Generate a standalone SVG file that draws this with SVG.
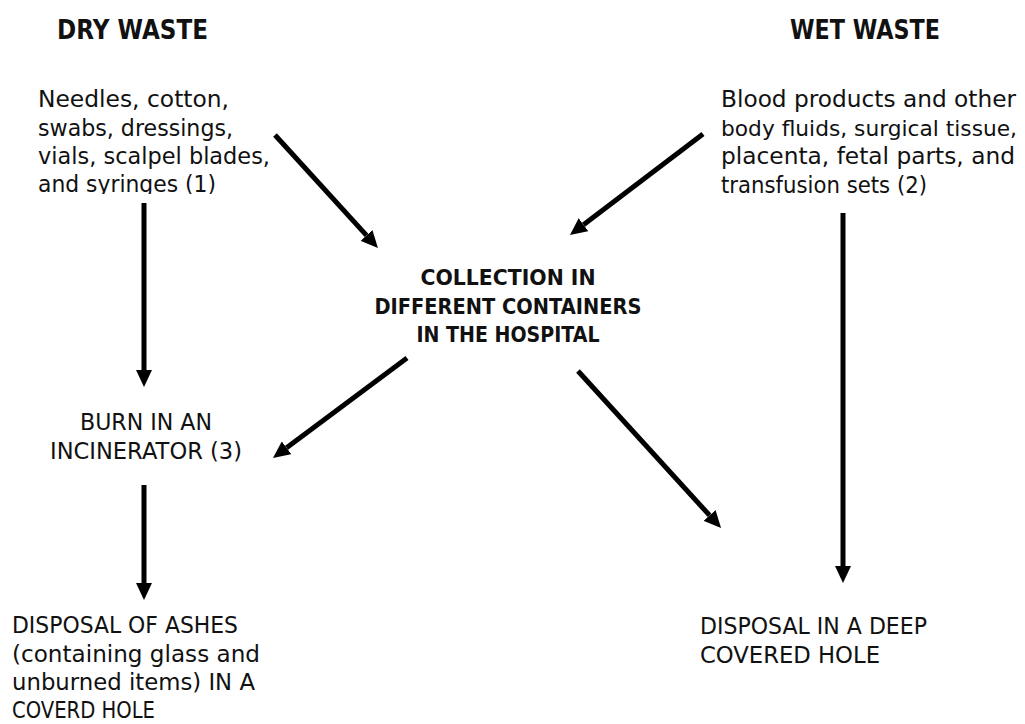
<svg xmlns="http://www.w3.org/2000/svg" width="1025" height="724" viewBox="0 0 1025 724">
<style>
text{font-family:"DejaVu Sans","Liberation Sans",sans-serif;fill:#111;}
.b{font-size:23px;}
.r{font-size:21.5px;}
.h{font-size:27px;font-weight:bold;}
.c{font-size:20.5px;font-weight:bold;text-anchor:middle;}
.m{text-anchor:middle;}
.arr{stroke:#000;stroke-width:5;fill:none;marker-end:url(#ah);}
</style>
<defs>
<marker id="ah" markerUnits="userSpaceOnUse" markerWidth="17" markerHeight="16" viewBox="0 0 17 16" refX="0" refY="8" orient="auto">
<path d="M0,0 L17,8 L0,16 z" fill="#000"/>
</marker>
<clipPath id="clipL"><rect x="0" y="0" width="400" height="194"/></clipPath>
</defs>
<rect width="1025" height="724" fill="#fff"/>
<g id="dry-title"><text class="h" x="57" y="39" textLength="151" lengthAdjust="spacingAndGlyphs">DRY WASTE</text></g>
<g id="wet-title"><text class="h" x="790" y="39" textLength="150" lengthAdjust="spacingAndGlyphs">WET WASTE</text></g>
<g id="dry-items" clip-path="url(#clipL)">
<text class="b" x="38" y="107" textLength="191" lengthAdjust="spacingAndGlyphs">Needles, cotton,</text>
<text class="b" x="38" y="135.5" textLength="195" lengthAdjust="spacingAndGlyphs">swabs, dressings,</text>
<text class="b" x="38" y="164" textLength="232" lengthAdjust="spacingAndGlyphs">vials, scalpel blades,</text>
<text class="b" x="38" y="192" textLength="178" lengthAdjust="spacingAndGlyphs">and syringes (1)</text>
</g>
<g id="wet-items">
<text class="b" x="721" y="107" textLength="295" lengthAdjust="spacingAndGlyphs">Blood products and other</text>
<text class="r" x="721" y="135.5" textLength="296" lengthAdjust="spacingAndGlyphs">body fluids, surgical tissue,</text>
<text class="b" x="721" y="164" textLength="294" lengthAdjust="spacingAndGlyphs">placenta, fetal parts, and</text>
<text class="b" x="721" y="192.5" textLength="206" lengthAdjust="spacingAndGlyphs">transfusion sets (2)</text>
</g>
<g id="collection">
<text class="c" x="508" y="285" textLength="175" lengthAdjust="spacingAndGlyphs">COLLECTION IN</text>
<text class="c" x="508" y="313.5" textLength="267" lengthAdjust="spacingAndGlyphs">DIFFERENT CONTAINERS</text>
<text class="c" x="508" y="342" textLength="183" lengthAdjust="spacingAndGlyphs">IN THE HOSPITAL</text>
</g>
<g id="burn">
<text class="b m" x="146" y="430" textLength="132" lengthAdjust="spacingAndGlyphs">BURN IN AN</text>
<text class="b m" x="146" y="459" textLength="192" lengthAdjust="spacingAndGlyphs">INCINERATOR (3)</text>
</g>
<g id="ashes">
<text class="b" x="12" y="633" textLength="226" lengthAdjust="spacingAndGlyphs">DISPOSAL OF ASHES</text>
<text class="b" x="12" y="661.5" textLength="248" lengthAdjust="spacingAndGlyphs">(containing glass and</text>
<text class="b" x="12" y="690" textLength="243" lengthAdjust="spacingAndGlyphs">unburned items) IN A</text>
<text class="b" x="12" y="718" textLength="143" lengthAdjust="spacingAndGlyphs">COVERD HOLE</text>
</g>
<g id="deep-hole">
<text class="b" x="700" y="634" textLength="227" lengthAdjust="spacingAndGlyphs">DISPOSAL IN A DEEP</text>
<text class="b" x="700" y="663" textLength="180" lengthAdjust="spacingAndGlyphs">COVERED HOLE</text>
</g>
<g id="connectors">
<line class="arr" x1="275" y1="135" x2="366.5" y2="235.4"/>
<line class="arr" x1="703" y1="134" x2="583.5" y2="224.7"/>
<line class="arr" x1="407" y1="358" x2="286.6" y2="447.8"/>
<line class="arr" x1="578" y1="371" x2="709.6" y2="515.4"/>
<line class="arr" x1="144" y1="203" x2="144" y2="370"/>
<line class="arr" x1="144" y1="485" x2="144" y2="583"/>
<line class="arr" x1="843" y1="213" x2="843" y2="566"/>
</g>
</svg>
